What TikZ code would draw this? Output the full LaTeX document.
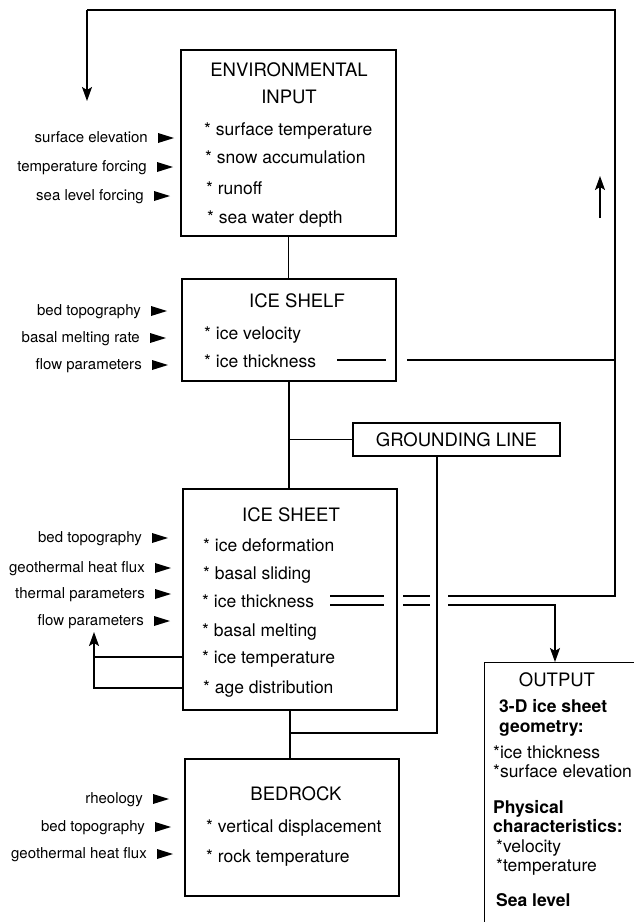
\documentclass[tikz,border=0pt]{standalone}
\usepackage{fontspec}
\setmainfont{TeX Gyre Heros}
\usetikzlibrary{arrows.meta,calc}
\begin{document}
\begin{tikzpicture}[x=1pt,y=-1pt,
  box/.style={draw, line width=1.4pt, inner sep=0pt},
  ttl/.style={font=\fontsize{18.5}{20}\selectfont, inner sep=0pt},
  itm/.style={font=\fontsize{17.5}{20}\selectfont, anchor=west, inner sep=0pt, text height=12.5pt, text depth=3.5pt},
  bitm/.style={itm, font=\fontsize{17.5}{20}\selectfont\bfseries},
  lab/.style={font=\fontsize{15}{17}\selectfont, anchor=east, inner sep=0pt, text height=11pt, text depth=3pt},
  wire/.style={line width=1.4pt},
  arr/.style={wire, -{Stealth[length=14pt,width=10pt,inset=3pt]}}]
\useasboundingbox (0,0) rectangle (634,922);
\clip (0,0) rectangle (634,922);
\newcommand{\inlab}[4]{%
  \node[lab] (#1) at (#3,#4) {#2};
  \fill ($(#1.east)+(10,-5)$) -- ++(16,5) -- ++(-16,5) -- cycle;}

% boxes
\node[box, minimum width=215pt, minimum height=186pt] (env) at (288.5,143) {};
\node[box, minimum width=214pt, minimum height=102pt] (shelf) at (289,330) {};
\node[box, minimum width=214pt, minimum height=221pt] (sheet) at (290,599.5) {};
\node[box, minimum width=214pt, minimum height=137pt] (bed) at (292,827.5) {};
\node[box, minimum width=207pt, minimum height=33pt, ttl] (gl) at (456.5,439.5) {GROUNDING LINE};
\node[box, minimum width=170pt, minimum height=290pt, anchor=north west] (out) at (484,662) {};

% environmental input
\node[ttl] (envt1) at (289,70) {ENVIRONMENTAL};
\node[ttl] (envt2) at (289,97) {INPUT};
\node[itm] (e1) at (204,131) {* surface temperature};
\node[itm] (e2) at (205,159) {* snow accumulation};
\node[itm] (e3) at (206,190) {* runoff};
\node[itm] (e4) at (207,219) {* sea water depth};
\inlab{le1}{surface elevation}{148}{138}
\inlab{le2}{temperature forcing}{147}{167}
\inlab{le3}{sea level forcing}{144}{196}

% ice shelf
\node[ttl] (shelft) at (297,301) {ICE SHELF};
\node[itm] (s1) at (204,335) {* ice velocity};
\node[itm] (s2) at (204,363) {* ice thickness};
\inlab{ls1}{bed topography}{141}{311}
\inlab{ls2}{basal melting rate}{140}{338}
\inlab{ls3}{flow parameters}{142}{365}

% ice sheet
\node[ttl] (sheett) at (291,515) {ICE SHEET};
\node[itm] (h1) at (203,547) {* ice deformation};
\node[itm] (h2) at (203,575) {* basal sliding};
\node[itm] (h3) at (202,603) {* ice thickness};
\node[itm] (h4) at (202,632) {* basal melting};
\node[itm] (h5) at (202,659) {* ice temperature};
\node[itm] (h6) at (203,689) {* age distribution};
\inlab{lh1}{bed topography}{142}{538}
\inlab{lh2}{geothermal heat flux}{145}{568}
\inlab{lh3}{thermal parameters}{145}{594}
\inlab{lh4}{flow parameters}{144}{621}

% bedrock
\node[ttl] (bedt) at (296,794) {BEDROCK};
\node[itm] (b1) at (206,828) {* vertical displacement};
\node[itm] (b2) at (206,858) {* rock temperature};
\inlab{lb1}{rheology}{143}{799}
\inlab{lb2}{bed topography}{145}{827}
\inlab{lb3}{geothermal heat flux}{147}{854}

% output
\node[ttl] (outt) at (557,680) {OUTPUT};
\node[bitm] (o1) at (499,708) {3-D ice sheet};
\node[bitm] (o2) at (499,728) {geometry:};
\node[itm] (o3) at (493,754) {*ice thickness};
\node[itm] (o4) at (493,773) {*surface elevation};
\node[bitm] (o5) at (493,809) {Physical};
\node[bitm] (o6) at (493,828) {characteristics:};
\node[itm] (o7) at (496,848) {*velocity};
\node[itm] (o8) at (496,867) {*temperature};
\node[bitm] (o9) at (496,902) {Sea level};

% coordinates
\coordinate (tl) at (87,10);
\coordinate (tr) at (615,10);
\coordinate (tip1) at (87,101);
\coordinate (upA) at (600,218);
\coordinate (upB) at (600,176);
\coordinate (glx) at (437,0);
\coordinate (j2) at (291,733);
\coordinate (fbA) at (0,657);
\coordinate (fbB) at (0,688);
\coordinate (fbtip) at (94,632);
\coordinate (outx) at (555,0);
\coordinate (sl0) at ($(s2.east)+(21,-3)$);
\coordinate (sl1) at ($(s2.east)+(91,-3)$);
\coordinate (ua) at ($(h3.east)+(16,-7)$);
\coordinate (ub) at ($(h3.east)+(89,-7)$);
\coordinate (uc) at ($(h3.east)+(134,-7)$);
\coordinate (la) at ($(h3.east)+(16,2)$);
\coordinate (lb) at ($(h3.east)+(89,2)$);
\coordinate (lc) at ($(h3.east)+(134,2)$);

% vertical links
\draw[wire] (env.south) -- (env.south |- shelf.north);
\draw[wire] (shelf.south) -- (shelf.south |- sheet.north);
\draw[wire] (shelf.south |- gl.west) -- (gl.west);
\draw[wire] (sheet.south) -- (sheet.south |- bed.north);
\draw[wire] (gl.south -| glx) |- (j2);

% ice shelf thickness line
\draw[wire] (sl0) -- ++(49,0);
\draw[wire] (sl1) -- (sl1 -| tr);

% ice sheet double line, upper to feedback loop
\draw[wire] (ua) -- ++(54,0);
\draw[wire] (ub) -- ++(27,0);
\draw[wire] (uc) -| (tr) -- (tl);
\draw[arr] (tl) -- (tip1);
\draw[arr] (upA) -- (upB);
% lower to output
\draw[wire] (la) -- ++(54,0);
\draw[wire] (lb) -- ++(27,0);
\draw[arr] (lc) -| (out.north -| outx);

% internal feedback loop
\draw[wire] (sheet.west |- fbA) -- (fbA -| fbtip);
\draw[arr] (sheet.west |- fbB) -| (fbtip);
\end{tikzpicture}
\end{document}
